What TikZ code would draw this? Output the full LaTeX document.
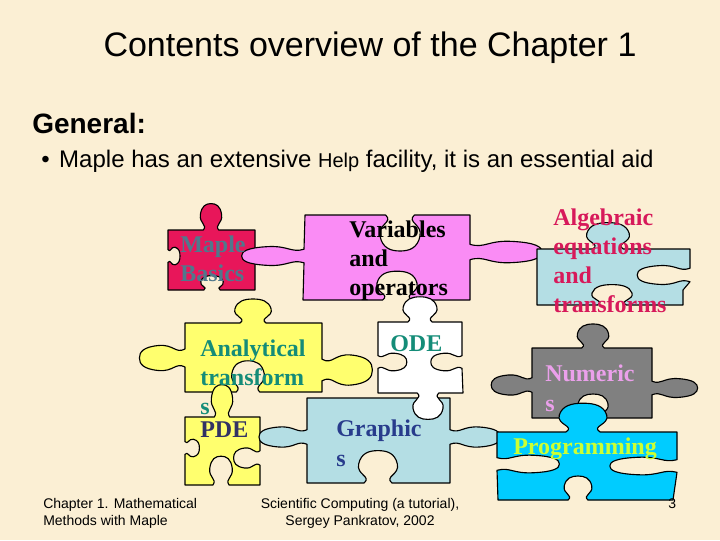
\documentclass[tikz,border=0pt]{standalone}
\usepackage{fontspec}
\setmainfont{Liberation Serif}
\setsansfont{Liberation Sans}
\definecolor{bgc}{RGB}{251,239,212}
\definecolor{cred}{RGB}{232,22,90}
\definecolor{cpink}{RGB}{250,140,245}
\definecolor{cpale}{RGB}{180,222,228}
\definecolor{cyel}{RGB}{255,255,110}
\definecolor{cgray}{RGB}{128,128,128}
\definecolor{ccyan}{RGB}{0,204,255}
\definecolor{tslate}{RGB}{80,120,140}
\definecolor{tcrim}{RGB}{215,25,90}
\definecolor{tteal}{RGB}{20,140,120}
\definecolor{tdark}{RGB}{50,50,100}
\definecolor{tblue}{RGB}{40,60,140}
\definecolor{tlilac}{RGB}{235,160,235}
\definecolor{tlime}{RGB}{204,255,51}
% jigsaw knob: centre (#1,#2), edge direction (#3,#4), scale along edge #5, scale outward #6 (negative = hole)
\newcommand\pzknob[6]{%
 -- ({#1+(-9)*(#5)*(#3)+(0)*(#6)*(#4)},{#2+(-9)*(#5)*(#4)-(0)*(#6)*(#3)})
 .. controls ({#1+(-4)*(#5)*(#3)+(5)*(#6)*(#4)},{#2+(-4)*(#5)*(#4)-(5)*(#6)*(#3)})
 and ({#1+(-14)*(#5)*(#3)+(6)*(#6)*(#4)},{#2+(-14)*(#5)*(#4)-(6)*(#6)*(#3)})
 .. ({#1+(-12.5)*(#5)*(#3)+(14)*(#6)*(#4)},{#2+(-12.5)*(#5)*(#4)-(14)*(#6)*(#3)})
 .. controls ({#1+(-11)*(#5)*(#3)+(22)*(#6)*(#4)},{#2+(-11)*(#5)*(#4)-(22)*(#6)*(#3)})
 and ({#1+(-6)*(#5)*(#3)+(24)*(#6)*(#4)},{#2+(-6)*(#5)*(#4)-(24)*(#6)*(#3)})
 .. ({#1+(0)*(#5)*(#3)+(24)*(#6)*(#4)},{#2+(0)*(#5)*(#4)-(24)*(#6)*(#3)})
 .. controls ({#1+(6)*(#5)*(#3)+(24)*(#6)*(#4)},{#2+(6)*(#5)*(#4)-(24)*(#6)*(#3)})
 and ({#1+(11)*(#5)*(#3)+(22)*(#6)*(#4)},{#2+(11)*(#5)*(#4)-(22)*(#6)*(#3)})
 .. ({#1+(12.5)*(#5)*(#3)+(14)*(#6)*(#4)},{#2+(12.5)*(#5)*(#4)-(14)*(#6)*(#3)})
 .. controls ({#1+(14)*(#5)*(#3)+(6)*(#6)*(#4)},{#2+(14)*(#5)*(#4)-(6)*(#6)*(#3)})
 and ({#1+(4)*(#5)*(#3)+(5)*(#6)*(#4)},{#2+(4)*(#5)*(#4)-(5)*(#6)*(#3)})
 .. ({#1+(9)*(#5)*(#3)+(0)*(#6)*(#4)},{#2+(9)*(#5)*(#4)-(0)*(#6)*(#3)})
}
\newcommand\knT[4]{\pzknob{#1}{#2}{1}{0}{#3}{#4}}
\newcommand\knR[4]{\pzknob{#1}{#2}{0}{1}{#3}{#4}}
\newcommand\knB[4]{\pzknob{#1}{#2}{-1}{0}{#3}{#4}}
\newcommand\knL[4]{\pzknob{#1}{#2}{0}{-1}{#3}{#4}}
\tikzset{
  piece/.style={draw=black,line width=0.85pt,line join=round},
  ptext/.style={anchor=west,inner sep=0pt,align=left,font=\bfseries\fontsize{18}{21.75}\selectfont},
  foot/.style={inner sep=0pt,font=\sffamily\fontsize{10.5}{12.75}\selectfont}
}
\begin{document}
\begin{tikzpicture}[x=0.75pt,y=-0.75pt]
\useasboundingbox (0,0) rectangle (720,540);
\fill[bgc] (0,0) rectangle (720,540);

% Maple Basics (red)
\filldraw[piece,fill=cred] (168,230) \knT{211}{230}{0.85}{1.1} -- (255,230) -- (255,290)
  \knB{212}{290}{0.9}{-0.6} -- (168,290) \knL{168}{256}{0.7}{-0.5} -- cycle;
% Variables and operators (pink)
\filldraw[piece,fill=cpink] (305,215) \knT{400}{215}{1.6}{-1.5} -- (470,215)
  \knR{470}{252}{0.85}{3.0} -- (470,300) \knB{397}{300}{1.6}{-1.2} -- (303,300)
  \knL{304}{256}{0.75}{2.6} -- cycle;
% Algebraic equations (pale blue)
\filldraw[piece,fill=cpale] (537,249) \knT{608}{249}{1.7}{1.1} -- (690,249)
  \knR{690}{275}{0.75}{-2.2} -- (683,290) -- (683,305) \knB{612}{305}{1.6}{-0.85}
  -- (537,305) -- cycle;
% Analytical transforms (yellow)
\filldraw[piece,fill=cyel] (185,323) \knT{253}{323}{1.45}{1.0} -- (322,323)
  \knR{322}{370}{1.2}{2.1} -- (322,392) \knB{248}{392}{1.3}{-1.3} -- (185,392)
  \knL{185}{358}{1.0}{1.9} -- cycle;
% PDE (yellow)
\filldraw[piece,fill=cyel] (185,417) \knT{222}{417}{0.85}{1.35} -- (260,417)
  \knR{260}{458}{0.8}{-1.1} -- (260,485) \knB{221}{485}{0.9}{-1.2} -- (185,485)
  \knL{185}{448}{0.7}{-0.6} -- cycle;
% Graphics (pale blue)
\filldraw[piece,fill=cpale] (307,398) -- (450,398) \knR{450}{437}{0.8}{2.1} -- (450,483)
  \knB{378}{483}{1.55}{-1.35} -- (307,483) \knL{307}{437}{0.8}{2.0} -- cycle;
% ODE (white)
\filldraw[piece,fill=white] (378,322) \knT{420}{322}{1.35}{1.05} -- (462,322)
  \knR{462}{362}{0.7}{-1.3} -- (463,393)
  \knB{428}{393}{1.2}{1.1} -- (378,393) \knL{378}{362}{0.7}{-1.2} -- cycle;
% Numerics (gray)
\filldraw[piece,fill=cgray] (532,348) \knT{593}{348}{1.25}{1.0} -- (652,348)
  \knR{652}{388}{0.75}{1.9} -- (652,418) \knB{593}{418}{1.2}{-1.0} -- (532,418)
  \knL{532}{385}{0.8}{1.7} -- cycle;
% Programming (cyan)
\filldraw[piece,fill=ccyan] (497,432) \knT{583}{432}{1.9}{1.2} -- (677,432) -- (677,452)
  \knR{677}{466}{0.7}{-2.8} -- (673,500) \knB{578}{500}{1.1}{-1.0} -- (498,500)
  \knL{497}{464}{0.7}{-2.6} -- cycle;

% texts
\node[inner sep=0pt,font=\sffamily\fontsize{25.5}{30}\selectfont] (title) at (370,48) {Contents overview of the Chapter 1};
\node[anchor=west,inner sep=0pt,font=\sffamily\bfseries\fontsize{21}{25}\selectfont] (general) at (32,123) {General:};
\node[anchor=west,inner sep=0pt,font=\sffamily\fontsize{18}{22}\selectfont] (bullet) at (41,161)
  {\makebox[13.5pt][l]{•}Maple has an extensive {\fontsize{15}{18}\selectfont Help} facility, it is an essential aid};

\node[ptext,text=tslate] (maple) at (180,258.5) {Maple\\Basics};
\node[ptext,text=black] (vars) at (349,260.5) {Variables\\and\\operators};
\node[ptext,text=tcrim] (alg) at (553,261) {Algebraic\\equations\\and\\transforms};
\node[ptext,text=tteal] (anal) at (200,377.5) {Analytical\\transform\\s};
\node[ptext,text=tdark] (pde) at (200,430) {PDE};
\node[ptext,text=tteal] (ode) at (390,344) {ODE};
\node[ptext,text=tblue,font=\bfseries\fontsize{18}{22.5}\selectfont] (graph) at (336,443.5) {Graphic\\s};
\node[ptext,text=tlilac,font=\bfseries\fontsize{18}{22.5}\selectfont] (num) at (545,388.5) {Numeric\\s};
\node[ptext,text=tlime] (prog) at (513,448.5) {Programming};

\node[foot,anchor=west,align=left] (foot1) at (43,513.5) {Chapter 1. Mathematical\\Methods with Maple};
\node[foot,align=center] (foot2) at (360,513.5) {Scientific Computing (a tutorial),\\Sergey Pankratov, 2002};
\node[foot,anchor=west] (page) at (668,504) {3};
\end{tikzpicture}
\end{document}
